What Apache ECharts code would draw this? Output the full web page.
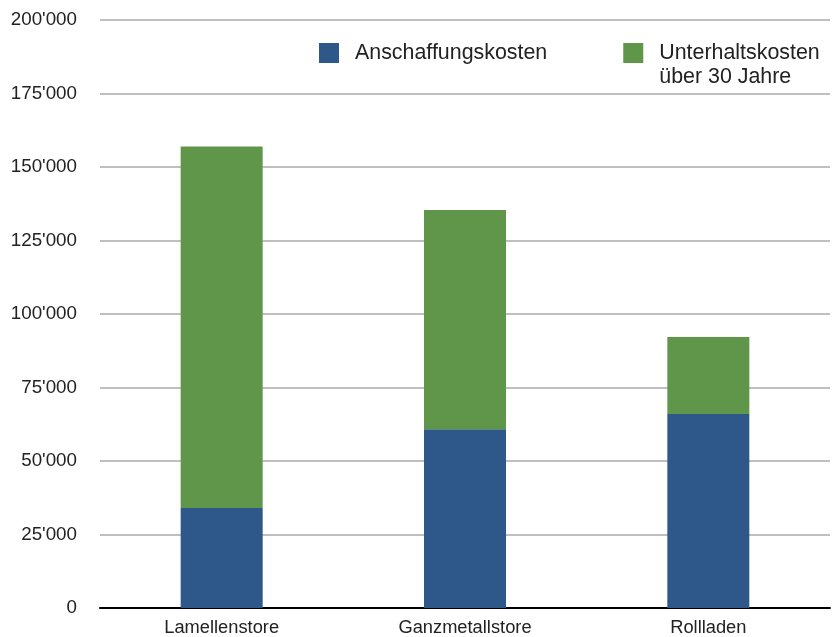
<!DOCTYPE html>
<html>
<head>
<meta charset="utf-8">
<script src="https://cdn.jsdelivr.net/npm/echarts@6/dist/echarts.min.js"></script>
<style>
html,body{margin:0;padding:0;background:#fff;}
#chart{width:838px;height:637px;}
</style>
</head>
<body>
<div id="chart"></div>
<script>
const categories = ['Lamellenstore', 'Ganzmetallstore', 'Rollladen'];
const anschaffungskosten = [34000, 60800, 66000];
const unterhaltskosten = [123000, 74600, 26200];
const seriesNames = ['Anschaffungskosten', 'Unterhaltskosten\nüber 30 Jahre'];
const colors = ['#2E5889', '#5F964A'];

function fmt(v) {
  return String(v).replace(/\B(?=(\d{3})+(?!\d))/g, "'");
}

const chart = echarts.init(document.getElementById('chart'));
chart.setOption({
  animation: false,
  textStyle: { fontFamily: 'Liberation Sans, Arial, sans-serif' },
  grid: { left: 100, right: 8, top: 20, bottom: 29, containLabel: false },
  legend: {
    left: 319,
    top: 17,
    padding: 0,
    itemWidth: 20,
    itemHeight: 20,
    itemGap: 76,
    icon: 'rect',
    formatter: function (name) {
      return name.indexOf('\n') >= 0 ? ' \n' + name : name;
    },
    textStyle: { fontSize: 21.4, color: '#222', padding: [0, 0, 0, 11], lineHeight: 24 },
    data: seriesNames
  },
  xAxis: {
    type: 'category',
    data: categories,
    axisLine: { lineStyle: { color: '#000', width: 2 } },
    axisTick: { show: false },
    axisLabel: { fontSize: 18.3, color: '#222', margin: 11 }
  },
  yAxis: {
    type: 'value',
    min: 0,
    max: 200000,
    interval: 25000,
    axisLine: { show: false },
    axisTick: { show: false },
    axisLabel: { fontSize: 18.8, color: '#222', margin: 23, formatter: fmt },
    splitLine: { lineStyle: { color: '#aaaaaa', width: 1.5 } }
  },
  series: [
    {
      name: seriesNames[0],
      type: 'bar',
      stack: 'total',
      barWidth: 82,
      itemStyle: { color: colors[0] },
      data: anschaffungskosten
    },
    {
      name: seriesNames[1],
      type: 'bar',
      stack: 'total',
      barWidth: 82,
      itemStyle: { color: colors[1] },
      data: unterhaltskosten
    }
  ]
});
</script>
</body>
</html>
